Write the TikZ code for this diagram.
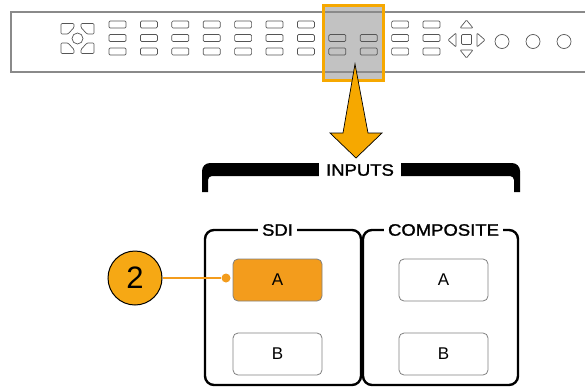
\documentclass[tikz,border=0pt]{standalone}
\usepackage{fontspec}
\setmainfont{Liberation Sans}
\newfontfamily\headfont[FakeStretch=1.12,FakeBold=1.5]{Liberation Sans}
\usepackage{xcolor}
\usepackage{tikz}
\usetikzlibrary{positioning}
\definecolor{C_PANEL} {HTML}{8A8A8A}
\definecolor{C_KEY}   {HTML}{555555}
\definecolor{C_ORNG}  {HTML}{F6A800}
\definecolor{C_BTN}   {HTML}{F39C1C}
\definecolor{C_CALL}  {HTML}{F6A814}
\definecolor{C_HILITE}{HTML}{C2C2C2}
\tikzset{
  %% -- front panel outline --
  panel/line/.style={draw=C_PANEL, line width=1.3pt},
  %% -- small front panel key --
  panel/key/.style={
    draw=C_KEY, line width=0.7pt, rounded corners=1.2pt,
    minimum width=17pt, minimum height=7pt, inner sep=0pt
  },
  %% -- front panel icon outline --
  panel/icon/.style={draw=C_KEY, line width=0.7pt, rounded corners=1pt},
  %% -- selected key group on the panel --
  panel/sel/.style={
    fill=C_HILITE, minimum width=60pt, minimum height=75pt, inner sep=0pt
  },
  %% -- group bracket and frames --
  grp/frame/.style={draw=black, line width=2.4pt, rounded corners=9pt},
  grp/lbl/.style={
    fill=white, inner xsep=4.5pt, inner ysep=1pt,
    font=\headfont\fontsize{16.5}{16.5}\selectfont
  },
  %% -- enlarged input key --
  inp/key/.style={
    draw=gray, line width=0.8pt, rounded corners=5pt, fill=white,
    minimum width=89pt, minimum height=42pt, inner sep=0pt,
    font=\fontsize{17}{17}\selectfont
  },
  inp/on/.style={inp/key, fill=C_BTN},
  %% -- callout --
  call/num/.style={
    circle, draw=black, line width=1pt, fill=C_CALL,
    minimum size=54pt, inner sep=0pt, font=\fontsize{31}{31}\selectfont
  },
  call/dot/.style={circle, fill=C_BTN, minimum size=9pt, inner sep=0pt},
  call/lead/.style={draw=C_BTN, line width=1.3pt},
}

\begin{document}
\begin{tikzpicture}[x=1pt, y=-1pt]
\useasboundingbox (0,0) rectangle (585,388);

%% Front panel
\node[panel/sel] (sel) at (353.5,43) {};
\draw[panel/line] (585,12) -- (11,12) -- (11,72) -- (585,72);

%% Left key cluster
\foreach \sx/\sy in {1/1,-1/1,1/-1,-1/-1}
  \draw[panel/icon, shift={(77.5,38.5)}, xscale=\sx, yscale=\sy]
    (-16.5,-15) -- (-3.5,-15) -- (-3.5,-11) -- (-9.5,-4.5) -- (-16.5,-4.5) -- cycle;
\draw[panel/icon] (77.5,38.5) circle (5.5);

%% Key columns
\foreach \i in {0,...,10}{
  \pgfmathsetmacro{\cx}{117.5+31.4*\i}
  \ifnum\i=7\relax\else\ifnum\i=8\relax\else
    \node[panel/key] (k-\i-1) at (\cx,24.5) {};
  \fi\fi
  \node[panel/key] (k-\i-2) at (\cx,38) {};
  \node[panel/key] (k-\i-3) at (\cx,51.5) {};
}

%% Arrow pad and knobs
\draw[panel/icon] (460,28) -- (466.5,20) -- (473,28) -- cycle;
\draw[panel/icon] (460,50) -- (473,50) -- (466.5,58) -- cycle;
\draw[panel/icon] (456,33) -- (448,40) -- (456,47) -- cycle;
\draw[panel/icon] (477,33) -- (485,40) -- (477,47) -- cycle;
\draw[panel/icon] (461.5,34.5) rectangle (471.5,44.5);
\foreach \kx in {502,533,564}
  \draw[draw=C_KEY, line width=0.7pt] (\kx,41.5) circle (7);

%% Selection frame
\draw[draw=C_ORNG, line width=3pt] (sel.south west) rectangle (sel.north east);

%% Zoom arrow
\draw[fill=C_ORNG, draw=black, line width=0.7pt, line join=miter]
  (355,64) -- (368,133) -- (382,133) -- (356,158) -- (330,133) -- (343,133) -- cycle;

%% INPUTS bracket
\fill (202,192) [rounded corners=8pt]-- (202,163) -- (520,163)
  [sharp corners]-- (520,192) -- (514,192) [rounded corners=4pt]-- (514,176)
  -- (208,176) [sharp corners]-- (208,192) -- cycle;
\node[grp/lbl, inner xsep=7pt, fill=white] (inputs) at (360,170) {INPUTS};

%% SDI and COMPOSITE frames
\draw[grp/frame] (205,230) rectangle (361,385);
\draw[grp/frame] (363,230) rectangle (518,385);
\node[grp/lbl] (sdi)  at (277.5,230) {SDI};
\node[grp/lbl] (comp) at (443.5,230) {COMPOSITE};

%% Input keys
\node[inp/on]  (sdiA)  at (277.5,280) {A};
\node[inp/key] (sdiB)  at (277.5,354) {B};
\node[inp/key] (compA) at (443.5,280) {A};
\node[inp/key] (compB) at (443.5,354) {B};

%% Callout
\node[call/num] (num) at (135,278) {2};
\node[call/dot] (pin) at (226,278) {};
\draw[call/lead] (num) -- (pin);
\end{tikzpicture}
\end{document}
